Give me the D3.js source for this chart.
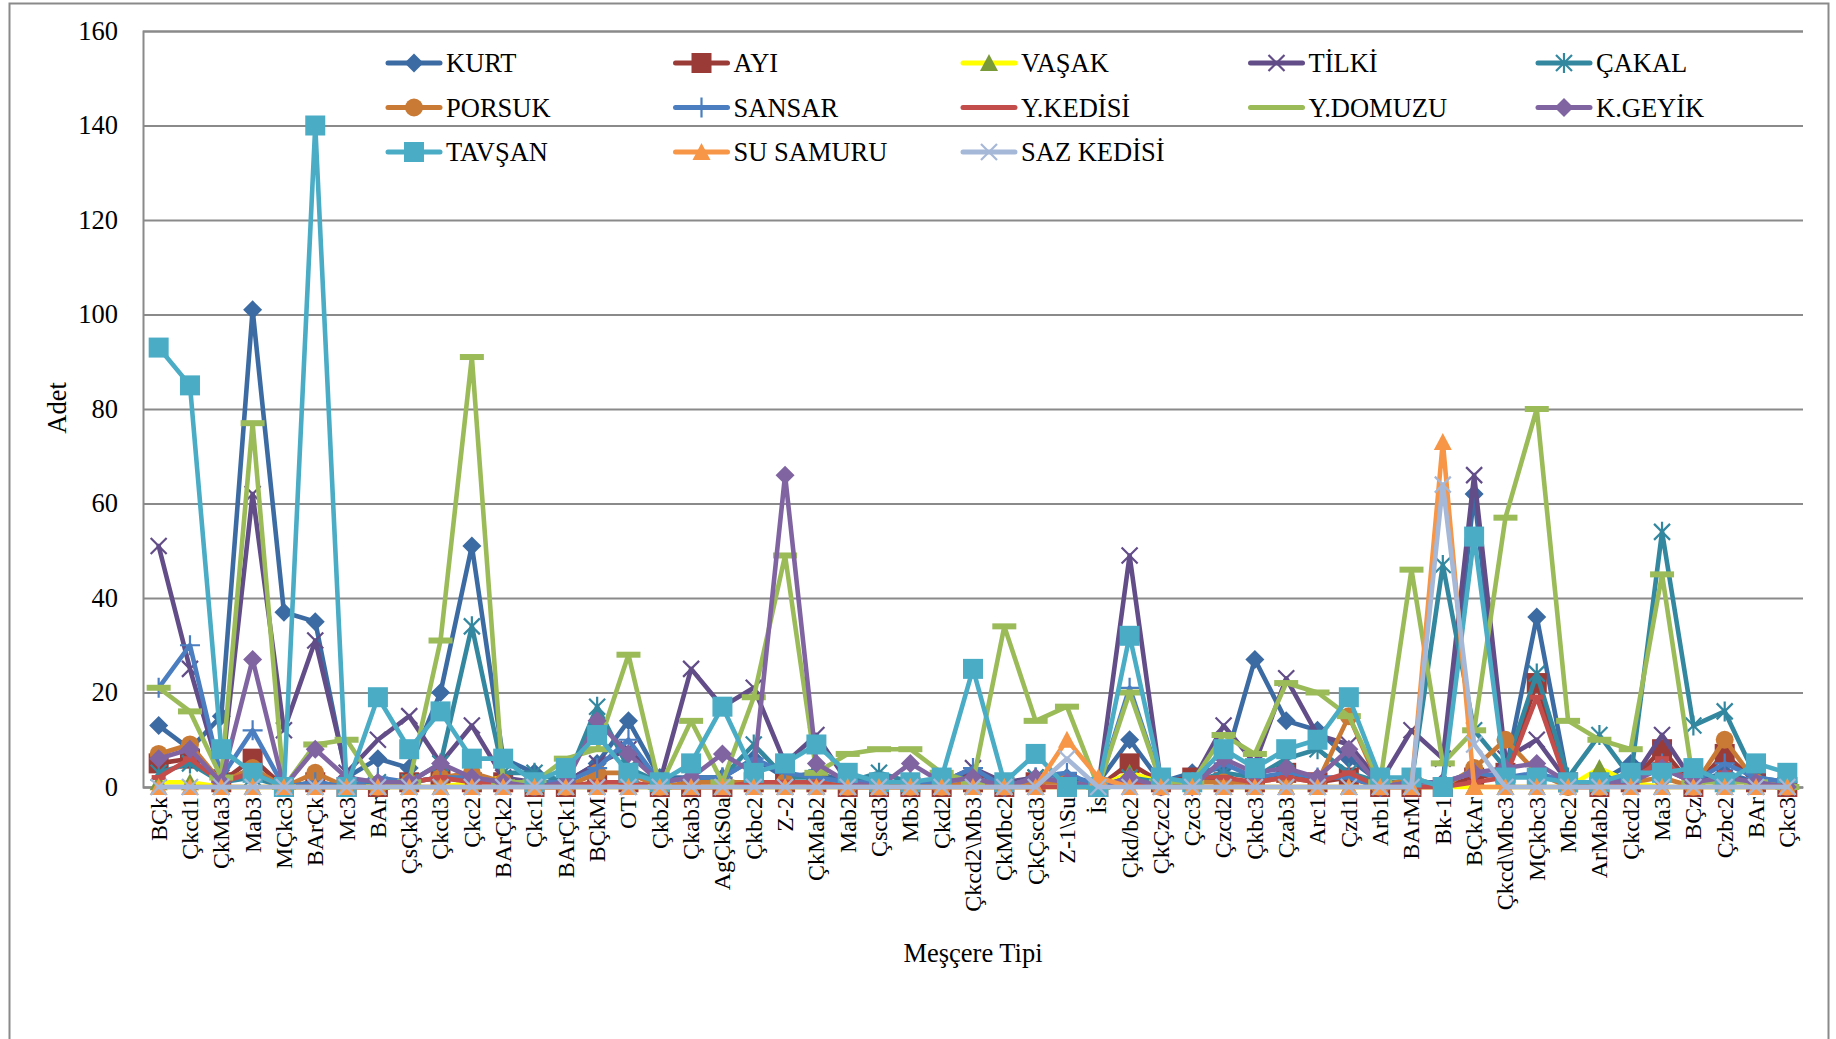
<!DOCTYPE html>
<html><head><meta charset="utf-8">
<script src="https://cdn.jsdelivr.net/npm/d3@7"></script>
<style>
html,body{margin:0;padding:0;background:#fff;}
text{font-family:"Liberation Serif","Times New Roman",serif;fill:#000;}
</style></head>
<body><svg id="c" width="1836" height="1039"></svg>
<script>
const categories = ["BÇk","Çkcd1","ÇkMa3","Mab3","MÇkc3","BArÇk","Mc3","BAr","ÇsÇkb3","Çkcd3","Çkc2","BArÇk2","Çkc1","BArÇk1","BÇkM","OT","Çkb2","Çkab3","AgÇkS0a","Çkbc2","Z-2","ÇkMab2","Mab2","Çscd3","Mb3","Çkd2","Çkcd2\\Mb3","ÇkMbc2","ÇkÇscd3","Z-1\\Su","İs","Çkd/bc2","ÇkÇzc2","Çzc3","Çzcd2","Çkbc3","Çzab3","Arc1","Çzd1","Arb1","BArM","Bk-1","BÇkAr","Çkcd\\Mbc3","MÇkbc3","Mbc2","ArMab2","Çkcd2","Ma3","BÇz","Çzbc2","BAr","Çkc3"];
const yTicks = [0,20,40,60,80,100,120,140,160];

const kurt    = [13,8,15,101,37,35,2,6,4,20,51,6,3,1,5,14,2,2,2,6,2,3,1,1,1,1,3,1,1,2,1,10,1,3,4,27,14,12,6,1,1,1,62,3,36,1,1,5,4,1,3,1,1];
const ayi     = [5,6,1,6,0,1,0,0,1,2,1,1,0,0,1,1,0,0,0,1,1,1,0,0,0,0,1,0,1,1,0,5,1,2,1,1,3,1,2,0,0,0,2,3,22,1,0,1,8,0,7,1,0];
const vasak   = [1,1,0,0,0,0,0,0,0,0,1,2,0,0,0,0,0,0,0,0,0,0,0,0,0,0,0,0,0,0,0,3,1,0,0,0,0,0,0,0,0,0,0,0,0,0,4,1,0,0,0,0,0];
const tilki   = [51,25,2,62,12,31,3,10,15,5,13,2,1,1,5,8,1,25,17,21,5,11,1,1,1,1,4,1,2,1,0,49,1,1,13,5,23,11,9,1,12,6,66,6,10,1,1,1,11,1,2,1,1];
const cakal   = [3,5,1,2,0,1,0,1,1,5,34,3,3,1,17,4,1,2,2,9,2,2,1,3,1,1,2,0,2,1,0,2,1,1,3,2,6,8,3,1,1,47,12,4,24,2,11,2,54,13,16,2,1];
const porsuk  = [7,9,1,4,0,3,0,0,1,2,3,1,0,0,3,3,0,1,1,1,1,1,0,0,0,0,1,0,1,1,0,1,0,1,1,1,2,1,15,0,2,0,4,10,3,0,0,1,2,0,10,1,0];
const sansar  = [21,30,2,12,0,1,0,2,1,2,2,1,1,1,4,10,1,2,2,6,3,2,1,1,1,1,4,0,2,3,0,21,1,1,5,2,3,2,2,0,1,1,3,2,3,1,1,2,5,1,5,2,1];
const ykedisi = [2,6,1,3,0,0,0,0,1,2,1,1,0,0,1,1,0,0,0,1,1,1,0,0,0,0,0,0,0,0,0,1,0,2,2,1,2,1,3,0,0,0,1,2,19,0,0,1,6,0,3,0,0];
const ydomuzu = [21,16,2,77,0,9,10,0,1,31,91,1,1,6,8,28,0,14,1,19,49,3,7,8,8,3,1,34,14,17,0,20,1,1,11,7,22,20,15,1,46,5,12,57,80,14,10,8,45,1,1,1,0];
const kgeyik  = [6,8,1,27,0,8,2,1,1,5,2,1,0,1,14,7,1,2,7,3,66,5,1,0,5,1,2,0,2,1,0,2,0,0,6,3,4,2,8,0,1,1,3,4,5,1,1,1,4,1,2,1,0];
const tavsan  = [93,85,8,3,0,140,0,19,8,16,6,6,1,4,11,3,1,5,17,3,5,9,3,1,1,2,25,1,7,0,0,32,2,1,8,4,8,10,19,2,2,0,53,2,2,1,1,3,3,4,1,5,3];
const susamuru= [0,0,0,0,0,0,0,0,0,0,0,0,0,0,0,0,0,0,0,0,0,0,0,0,0,0,0,0,0,10,2,0,0,0,0,0,0,0,0,0,0,73,0,0,0,0,0,0,0,0,0,0,0];
const sazkedisi=[0,0,0,0,0,0,0,0,0,0,0,0,0,0,0,0,0,0,0,0,0,0,0,0,0,0,0,0,0,6,0,0,0,0,0,0,0,0,0,0,0,64,9,0,0,0,0,0,0,0,0,0,0];

const series = [
 {name:"KURT", values:kurt, color:"#3C6BA3", marker:"diamond"},
 {name:"AYI", values:ayi, color:"#9B3B38", marker:"square"},
 {name:"VAŞAK", values:vasak, color:"#FFFF00", mcolor:"#7A9A3A", marker:"triangle"},
 {name:"TİLKİ", values:tilki, color:"#624D88", marker:"x"},
 {name:"ÇAKAL", values:cakal, color:"#3388A0", marker:"star"},
 {name:"PORSUK", values:porsuk, color:"#C97A35", marker:"circle"},
 {name:"SANSAR", values:sansar, color:"#4A7EC0", marker:"plus"},
 {name:"Y.KEDİSİ", values:ykedisi, color:"#C24D4A", marker:"dashS"},
 {name:"Y.DOMUZU", values:ydomuzu, color:"#9BBB59", marker:"dashL"},
 {name:"K.GEYİK", values:kgeyik, color:"#8064A2", marker:"diamond"},
 {name:"TAVŞAN", values:tavsan, color:"#4BACC6", marker:"square"},
 {name:"SU SAMURU", values:susamuru, color:"#F79646", marker:"triangle"},
 {name:"SAZ KEDİSİ", values:sazkedisi, color:"#A6B8D8", marker:"x"}
];

const svg = d3.select("#c");
svg.append("rect").attr("width",1836).attr("height",1039).attr("fill","#fff");
svg.append("rect").attr("x",9.5).attr("y",3.5).attr("width",1819).attr("height",1060)
  .attr("fill","none").attr("stroke","#8a8a8a").attr("stroke-width",2);

const L=143, R=1803, T=31, B=787;
const x = d3.scaleBand().domain(d3.range(categories.length)).range([L,R]);
const cx = i => x(i) + x.bandwidth()/2;
const y = d3.scaleLinear().domain([0,160]).range([B,T]);

// gridlines + y axis
const yAxis = d3.axisLeft(y).tickValues(yTicks).tickSize(-(R-L)).tickPadding(25);
const gy = svg.append("g").attr("transform",`translate(${L},0)`).call(yAxis);
gy.attr("font-family","Liberation Serif");
gy.select(".domain").attr("stroke","#8a8a8a").attr("stroke-width",2);
gy.selectAll(".tick line").attr("stroke","#8a8a8a").attr("stroke-width",2);
gy.selectAll(".tick text").attr("font-size",26.5).attr("font-family","Liberation Serif").attr("fill","#000");

// x axis
const xAxis = d3.axisBottom(x).tickFormat(i=>categories[i]).tickSize(0);
const gx = svg.append("g").attr("transform",`translate(0,${B})`).call(xAxis);
gx.attr("font-family","Liberation Serif");
gx.select(".domain").attr("stroke","#8a8a8a").attr("stroke-width",2);
gx.selectAll(".tick text").attr("font-size",24).attr("font-family","Liberation Serif").attr("fill","#000")
  .attr("text-anchor","end").attr("transform","rotate(-90)").attr("x",-10).attr("y",0).attr("dy","0.33em");

// axis titles
svg.append("text").attr("transform","translate(66,408) rotate(-90)").attr("text-anchor","middle")
  .attr("font-size",26.5).text("Adet");
svg.append("text").attr("x",973).attr("y",962).attr("text-anchor","middle").attr("font-size",26.5).text("Meşçere Tipi");

function drawMarker(g, s, px, py){
  const c = s.mcolor || s.color;
  const t = s.marker;
  const gg = g.append("g").attr("transform",`translate(${px},${py})`);
  if(t==="diamond") gg.append("path").attr("d","M0,-9.5L9.5,0L0,9.5L-9.5,0Z").attr("fill",c);
  else if(t==="square") gg.append("rect").attr("x",-10).attr("y",-10).attr("width",20).attr("height",20).attr("fill",c);
  else if(t==="triangle") gg.append("path").attr("d","M0,-9L9,8L-9,8Z").attr("fill",c);
  else if(t==="circle") gg.append("circle").attr("r",9).attr("fill",c);
  else if(t==="x"){
    gg.append("path").attr("d","M-8,-8L8,8M-8,8L8,-8").attr("stroke",c).attr("stroke-width",2.2);
  } else if(t==="star"){
    gg.append("path").attr("d","M-8,-8L8,8M-8,8L8,-8M0,-10L0,10").attr("stroke",c).attr("stroke-width",2.2);
  } else if(t==="plus"){
    gg.append("path").attr("d","M-10,0L10,0M0,-10L0,10").attr("stroke",c).attr("stroke-width",2.2);
  } else if(t==="dashS") gg.append("rect").attr("x",-7).attr("y",-2.5).attr("width",14).attr("height",5).attr("fill",c);
  else if(t==="dashL") gg.append("rect").attr("x",-12).attr("y",-3).attr("width",24).attr("height",6).attr("fill",c);
}

const line = d3.line().x((d,i)=>cx(i)).y(d=>y(d));
const plot = svg.append("g");
series.forEach(s=>{
  const g = plot.append("g");
  g.append("path").attr("d",line(s.values)).attr("fill","none").attr("stroke",s.color)
    .attr("stroke-width",4.6).attr("stroke-linejoin","round").attr("stroke-linecap","round");
  s.values.forEach((v,i)=>drawMarker(g,s,cx(i),y(v)));
});

// legend
const lg = svg.append("g");
series.forEach((s,k)=>{
  const col = k%5, row = Math.floor(k/5);
  const tx = 446 + col*287.5, ty = 63 + row*44.5;
  const g = lg.append("g");
  g.append("line").attr("x1",tx-58).attr("x2",tx-6).attr("y1",ty).attr("y2",ty)
    .attr("stroke",s.color).attr("stroke-width",5).attr("stroke-linecap","round");
  if(s.marker!=="dashS" && s.marker!=="dashL") drawMarker(g,s,tx-32,ty);
  g.append("text").attr("x",tx).attr("y",ty).attr("dy","0.35em").attr("font-size",26.5).text(s.name);
});
</script></body></html>
